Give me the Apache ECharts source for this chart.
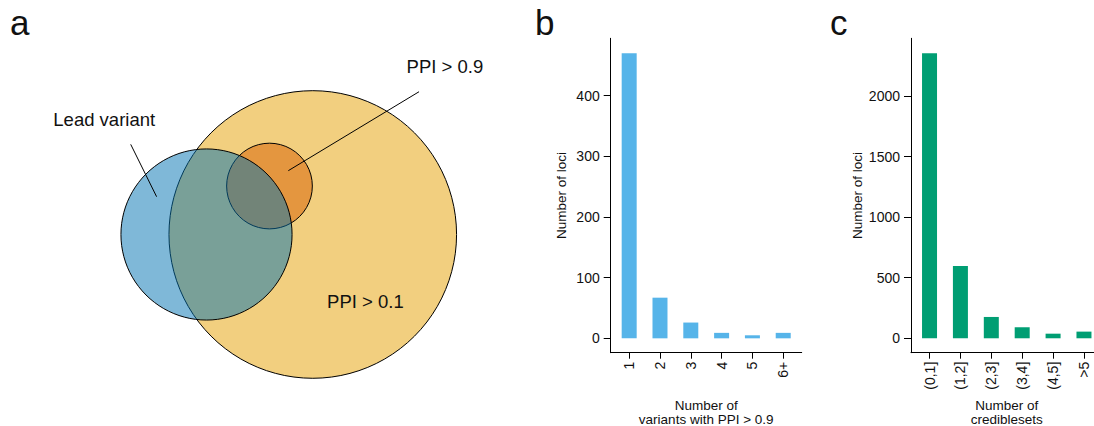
<!DOCTYPE html>
<html>
<head>
<meta charset="utf-8">
<script src="https://cdn.jsdelivr.net/npm/echarts@6/dist/echarts.min.js"></script>
<style>
html,body{margin:0;padding:0;background:#fff;}
#chart{width:1094px;height:426px;}
</style>
</head>
<body>
<div id="chart"></div>
<script>
// ---------- Data ----------
// Panel a: Venn circles (centre x, centre y, radius in Venn units)
const vennSets = ['PPI > 0.1', 'PPI > 0.9', 'Lead variant'];
const vennCx = [0, -0.301, -0.739];
const vennCy = [0, 0.337, 0];
const vennR = [1, 0.298, 0.595];

// Panel b
const ppiCategories = ['1', '2', '3', '4', '5', '6+'];
const ppiLoci = [470, 67, 26, 9, 5, 9];
const ppiTicks = [0, 100, 200, 300, 400];

// Panel c
const csCategories = ['(0,1]', '(1,2]', '(2,3]', '(3,4]', '(4,5]', '>5'];
const csLoci = [2353, 597, 176, 91, 38, 55];
const csTicks = [0, 500, 1000, 1500, 2000];

// ---------- Styles ----------
const FONT = '"Liberation Sans", Arial, Helvetica, sans-serif';
const TXT = '#111';
const vennFills = ['rgba(230,159,0,0.5)', 'rgba(213,94,0,0.5)', 'rgba(0,114,178,0.5)'];
// label anchors / leader lines for the Venn (in Venn units)
const vennLabels = [
  {text: 'Lead variant', at: [-1.450, 0.803], line: [[-1.266, 0.627], [-1.086, 0.263]]},
  {text: 'PPI > 0.9', at: [0.919, 1.167], line: [[0.739, 0.993], [-0.170, 0.444]]},
  {text: 'PPI > 0.1', at: [0.366, -0.469], line: null}
];

const chart = echarts.init(document.getElementById('chart'), null, {renderer: 'svg'});

function barXAxis(idx, cats, name) {
  return {
    type: 'value', gridIndex: idx, min: 0.4, max: 6.6,
    axisLine: {show: true, onZero: false, lineStyle: {color: '#000', width: 1}},
    axisTick: {show: true, length: 6, lineStyle: {color: '#000'}, customValues: [1, 2, 3, 4, 5, 6]},
    axisLabel: {
      show: true, rotate: 90, margin: 9, fontSize: 14, color: TXT, fontFamily: FONT,
      customValues: [1, 2, 3, 4, 5, 6],
      formatter: v => cats[Math.round(v) - 1] || ''
    },
    splitLine: {show: false},
    name: name, nameLocation: 'middle', nameGap: 46,
    nameTextStyle: {fontSize: 13.5, color: TXT, fontFamily: FONT, lineHeight: 14}
  };
}
function barYAxis(idx, min, max, ticks) {
  return {
    type: 'value', gridIndex: idx, min: min, max: max,
    axisLine: {show: true, lineStyle: {color: '#000', width: 1}},
    axisTick: {show: true, length: 7, lineStyle: {color: '#000'}, customValues: ticks},
    axisLabel: {show: true, margin: 11, fontSize: 14, color: TXT, fontFamily: FONT,
                customValues: ticks, formatter: v => String(Math.round(v))},
    splitLine: {show: false},
    name: 'Number of loci', nameLocation: 'middle', nameRotate: 90, nameGap: 42,
    nameTextStyle: {fontSize: 13.5, color: TXT, fontFamily: FONT}
  };
}

const titleStyle = {fontSize: 35, fontWeight: 'normal', color: TXT, fontFamily: FONT};
const option = {
  animation: false,
  backgroundColor: '#fff',
  title: [
    {text: 'a', left: 5, top: 0, textStyle: titleStyle},
    {text: 'b', left: 530, top: 0, textStyle: titleStyle},
    {text: 'c', left: 825, top: 0, textStyle: titleStyle}
  ],
  grid: [
    {left: 0, top: 0, width: 500, height: 426, outerBoundsMode: 'none', containLabel: false},
    {left: 610.7, top: 38.3, width: 191, height: 314.4, outerBoundsMode: 'none', containLabel: false},
    {left: 911, top: 38.3, width: 191.5, height: 314.4, outerBoundsMode: 'none', containLabel: false}
  ],
  xAxis: [
    {type: 'value', gridIndex: 0, min: -2.175, max: 1.302, show: false},
    barXAxis(1, ppiCategories, 'Number of\nvariants with PPI > 0.9'),
    barXAxis(2, csCategories, 'Number of\ncrediblesets')
  ],
  yAxis: [
    {type: 'value', gridIndex: 0, min: -1.332, max: 1.631, show: false},
    barYAxis(1, -23.7, 494.6, ppiTicks),
    barYAxis(2, -119, 2476, csTicks)
  ],
  series: [
    {
      type: 'custom', xAxisIndex: 0, yAxisIndex: 0, silent: true,
      data: vennSets.map((n, i) => [vennCx[i], vennCy[i], vennR[i]]),
      renderItem: function (params, api) {
        const i = params.dataIndex;
        const c = api.coord([api.value(0), api.value(1)]);
        const s = api.size([api.value(2), api.value(2)]);
        return {
          type: 'circle',
          shape: {cx: c[0], cy: c[1], r: s[0]},
          style: {fill: vennFills[i], stroke: '#000', lineWidth: 1}
        };
      }
    },
    {
      type: 'custom', xAxisIndex: 0, yAxisIndex: 0, silent: true,
      data: vennLabels.map(l => [l.at[0], l.at[1]]),
      renderItem: function (params, api) {
        const l = vennLabels[params.dataIndex];
        const p = api.coord([api.value(0), api.value(1)]);
        const children = [{
          type: 'text',
          style: {text: l.text, x: p[0], y: p[1], align: 'center', verticalAlign: 'middle',
                  font: '18.5px ' + FONT, fill: TXT}
        }];
        if (l.line) {
          const a = api.coord(l.line[0]);
          const b = api.coord(l.line[1]);
          children.push({type: 'line', shape: {x1: a[0], y1: a[1], x2: b[0], y2: b[1]},
                         style: {stroke: '#000', lineWidth: 1}});
        }
        return {type: 'group', children: children};
      }
    },
    {
      type: 'bar', xAxisIndex: 1, yAxisIndex: 1, barWidth: 15,
      itemStyle: {color: '#56B4E9'},
      data: ppiLoci.map((v, i) => [i + 1, v])
    },
    {
      type: 'bar', xAxisIndex: 2, yAxisIndex: 2, barWidth: 15,
      itemStyle: {color: '#009E73'},
      data: csLoci.map((v, i) => [i + 1, v])
    }
  ]
};
chart.setOption(option);
</script>
</body>
</html>
